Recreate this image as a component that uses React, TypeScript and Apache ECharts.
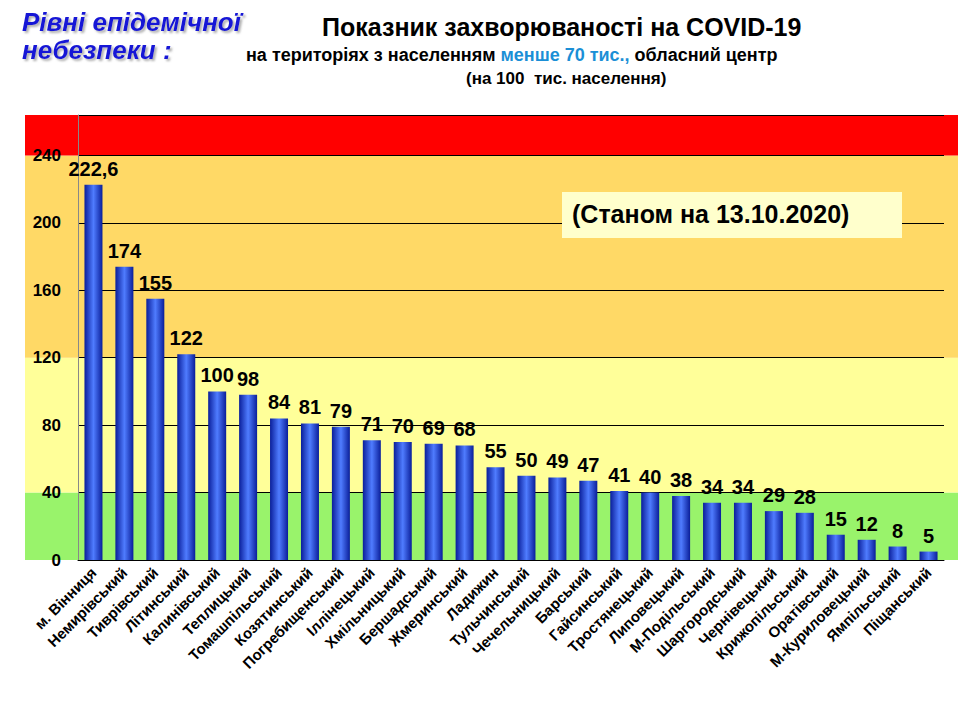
import React from 'react';
import * as echarts from 'echarts';

const categories = [
  'м. Вінниця', 'Немирівський', 'Тиврівський', 'Літинський', 'Калинівський', 'Теплицький',
  'Томашпільський', 'Козятинський', 'Погребищенський', 'Іллінецький', 'Хмільницький',
  'Бершадський', 'Жмеринський', 'Ладижин', 'Тульчинський', 'Чечельницький', 'Барський',
  'Гайсинський', 'Тростянецький', 'Липовецький', 'М-Подільський', 'Шаргородський',
  'Чернівецький', 'Крижопільський', 'Оратівський', 'М-Куриловецький', 'Ямпільський', 'Піщанський',
];
const values = [222.6, 174, 155, 122, 100, 98, 84, 81, 79, 71, 70, 69, 68, 55, 50, 49, 47, 41, 40, 38, 34, 34, 29, 28, 15, 12, 8, 5];
// danger-level bands: [from, to, colour]
const bands: [number, number, string][] = [
  [0, 40, '#99f36b'],
  [40, 120, '#ffff99'],
  [120, 240, '#ffd966'],
  [240, 264, '#ff0000'],
];

const App: React.FC = () => {
  const ref = React.useRef<HTMLDivElement>(null);

  React.useEffect(() => {
    if (!ref.current) return;
    const chart = echarts.init(ref.current, null, { renderer: 'svg' });
    const font = 'Liberation Sans, Arial, sans-serif';

    chart.setOption({
      animation: false,
      grid: { left: 78, right: 16, top: 115, bottom: 160 },
      xAxis: {
        type: 'category',
        data: categories,
        axisLine: { lineStyle: { color: '#000' } },
        axisTick: { lineStyle: { color: '#000' } },
        axisLabel: { rotate: 45, interval: 0, color: '#000', fontWeight: 'bold', fontSize: 15, fontFamily: font, margin: 10 },
      },
      yAxis: {
        type: 'value',
        min: 0,
        max: 264,
        interval: 40,
        axisLine: { show: true, lineStyle: { color: '#888' } },
        axisLabel: { showMaxLabel: false, color: '#000', fontWeight: 'bold', fontSize: 17, fontFamily: font, margin: 17 },
        splitLine: { lineStyle: { color: '#000', width: 1 } },
      },
      series: [
        {
          type: 'bar',
          data: values,
          barWidth: 18,
          z: 3,
          itemStyle: {
            color: new echarts.graphic.LinearGradient(0, 0, 1, 0, [
              { offset: 0, color: '#0a1e9a' },
              { offset: 0.5, color: '#4f7cff' },
              { offset: 1, color: '#0a1e9a' },
            ]),
          },
          label: {
            show: true,
            position: 'top',
            distance: 6,
            color: '#000',
            fontWeight: 'bold',
            fontSize: 20,
            fontFamily: 'Liberation Sans Narrow, Arial Narrow, sans-serif',
            formatter: (p: any) => String(p.value).replace('.', ','),
          },
          markArea: {
            silent: true,
            z: -1,
            data: bands.map(([a, b, c]) => [{ yAxis: a, itemStyle: { color: c, opacity: 1 } }, { yAxis: b }]),
          },
        },
      ],
    });

    // extend the bands beyond the plot area
    const rects = bands.map(([a, b, c]) => {
      const y1 = chart.convertToPixel({ yAxisIndex: 0 }, b) as number;
      const y0 = chart.convertToPixel({ yAxisIndex: 0 }, a) as number;
      return { type: 'rect', z: -10, shape: { x: 25, y: y1, width: 933, height: y0 - y1 }, style: { fill: c } };
    });

    chart.setOption({
      graphic: [
        ...rects,
        {
          type: 'text', left: 22, top: 8,
          style: { text: 'Рівні епідемічної\nнебезпеки :', fill: '#1515d6', font: 'italic bold 26px ' + font, lineHeight: 28, textShadowColor: 'rgba(120,120,120,0.6)', textShadowBlur: 2, textShadowOffsetX: 2, textShadowOffsetY: 2 },
        },
        { type: 'text', left: 322, top: 14, style: { text: 'Показник захворюваності на COVID-19', fill: '#000', font: 'bold 25px ' + font } },
        {
          type: 'text', left: 246, top: 46,
          style: {
            text: '{a|на територіях з населенням }{b|менше 70 тис.,}{a| обласний центр}',
            rich: {
              a: { fill: '#000', font: 'bold 18px ' + font },
              b: { fill: '#1b8fd6', font: 'bold 18px ' + font },
            },
          },
        },
        { type: 'text', left: 466, top: 70, style: { text: '(на 100  тис. населення)', fill: '#000', font: 'bold 17px ' + font } },
        { type: 'rect', z: 10, shape: { x: 562, y: 192, width: 340, height: 46 }, style: { fill: '#ffffcc' } },
        { type: 'text', z: 11, left: 572, top: 201, style: { text: '(Станом на 13.10.2020)', fill: '#000', font: 'bold 25px ' + font } },
      ],
    });

    return () => chart.dispose();
  }, []);

  return <div ref={ref} style={{ width: 960, height: 720, position: 'absolute', left: 0, top: 0 }} />;
};

export default App;
